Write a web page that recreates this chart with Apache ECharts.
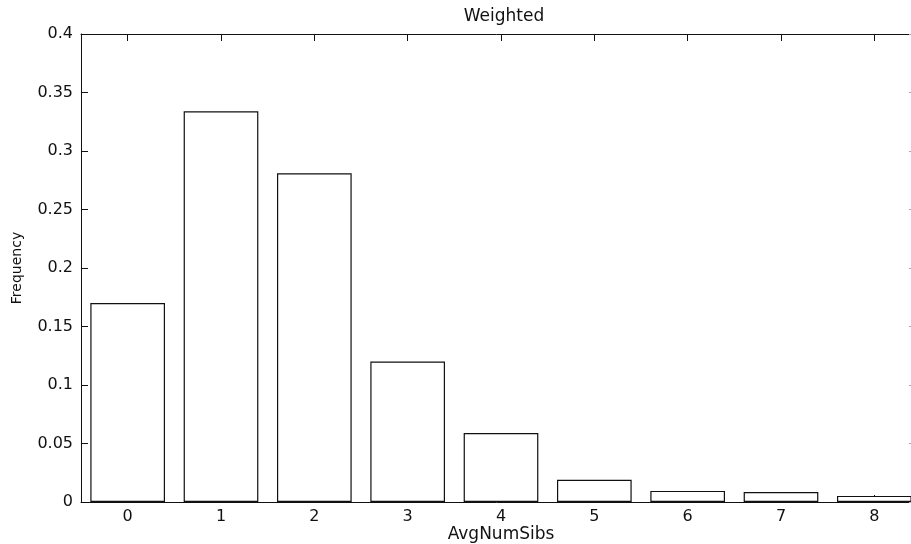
<!DOCTYPE html>
<html>
<head>
<meta charset="utf-8">
<script src="https://cdn.jsdelivr.net/npm/echarts@6/dist/echarts.min.js"></script>
<style>
  html, body { margin: 0; padding: 0; background: #fff; }
  #chart { width: 911px; height: 544px; }
</style>
</head>
<body>
<div id="chart"></div>
<script>
const categories = ['0', '1', '2', '3', '4', '5', '6', '7', '8'];
const frequency = [0.170, 0.334, 0.281, 0.120, 0.059, 0.019, 0.0095, 0.0085, 0.0052];

const ink = '#111';
const font = 'DejaVu Sans, sans-serif';

const chart = echarts.init(document.getElementById('chart'));

const tickInside = { show: true, inside: true, length: 7, alignWithLabel: true, lineStyle: { color: ink } };

chart.setOption({
  animation: false,
  backgroundColor: '#fff',
  title: {
    text: 'Weighted',
    left: 499,
    top: 3,
    textAlign: 'center',
    textStyle: { fontFamily: font, fontSize: 17, fontWeight: 'normal', color: ink }
  },
  // the right edge of the plot sits just past the window, as in the scan
  grid: { left: 81, top: 34, width: 840, height: 468, outerBoundsMode: 'none', containLabel: false },
  xAxis: [
    {
      type: 'category',
      data: categories,
      name: 'AvgNumSibs',
      nameLocation: 'middle',
      nameGap: 24,
      nameMoveOverlap: false,
      nameTextStyle: { fontFamily: font, fontSize: 17, color: ink },
      axisLine: { show: true, lineStyle: { color: ink } },
      axisTick: tickInside,
      axisLabel: { fontFamily: font, fontSize: 16, color: ink, margin: 7 },
      splitLine: { show: false }
    },
    {
      type: 'category',
      data: categories,
      position: 'top',
      axisLine: { show: true, onZero: false, lineStyle: { color: ink } },
      axisTick: tickInside,
      axisLabel: { show: false },
      splitLine: { show: false }
    }
  ],
  yAxis: [
    {
      type: 'value',
      min: 0,
      max: 0.4,
      interval: 0.05,
      name: 'Frequency',
      nameLocation: 'middle',
      nameGap: 57,
      nameMoveOverlap: false,
      nameTextStyle: { fontFamily: font, fontSize: 14, color: ink },
      axisLine: { show: true, lineStyle: { color: ink } },
      axisTick: { show: true, inside: true, length: 7, lineStyle: { color: ink } },
      axisLabel: {
        fontFamily: font, fontSize: 16, color: ink, margin: 8,
        formatter: v => String(Math.round(v * 100) / 100)
      },
      splitLine: { show: false }
    },
    {
      type: 'value',
      min: 0,
      max: 0.4,
      interval: 0.05,
      position: 'right',
      axisLine: { show: true, lineStyle: { color: ink } },
      axisTick: { show: true, inside: true, length: 12, lineStyle: { color: '#aaa' } },
      axisLabel: { show: false },
      splitLine: { show: false }
    }
  ],
  series: [
    {
      type: 'bar',
      data: frequency,
      barCategoryGap: '20%',
      itemStyle: { color: '#fff', borderColor: ink, borderWidth: 1.2 }
    }
  ]
});
</script>
</body>
</html>
